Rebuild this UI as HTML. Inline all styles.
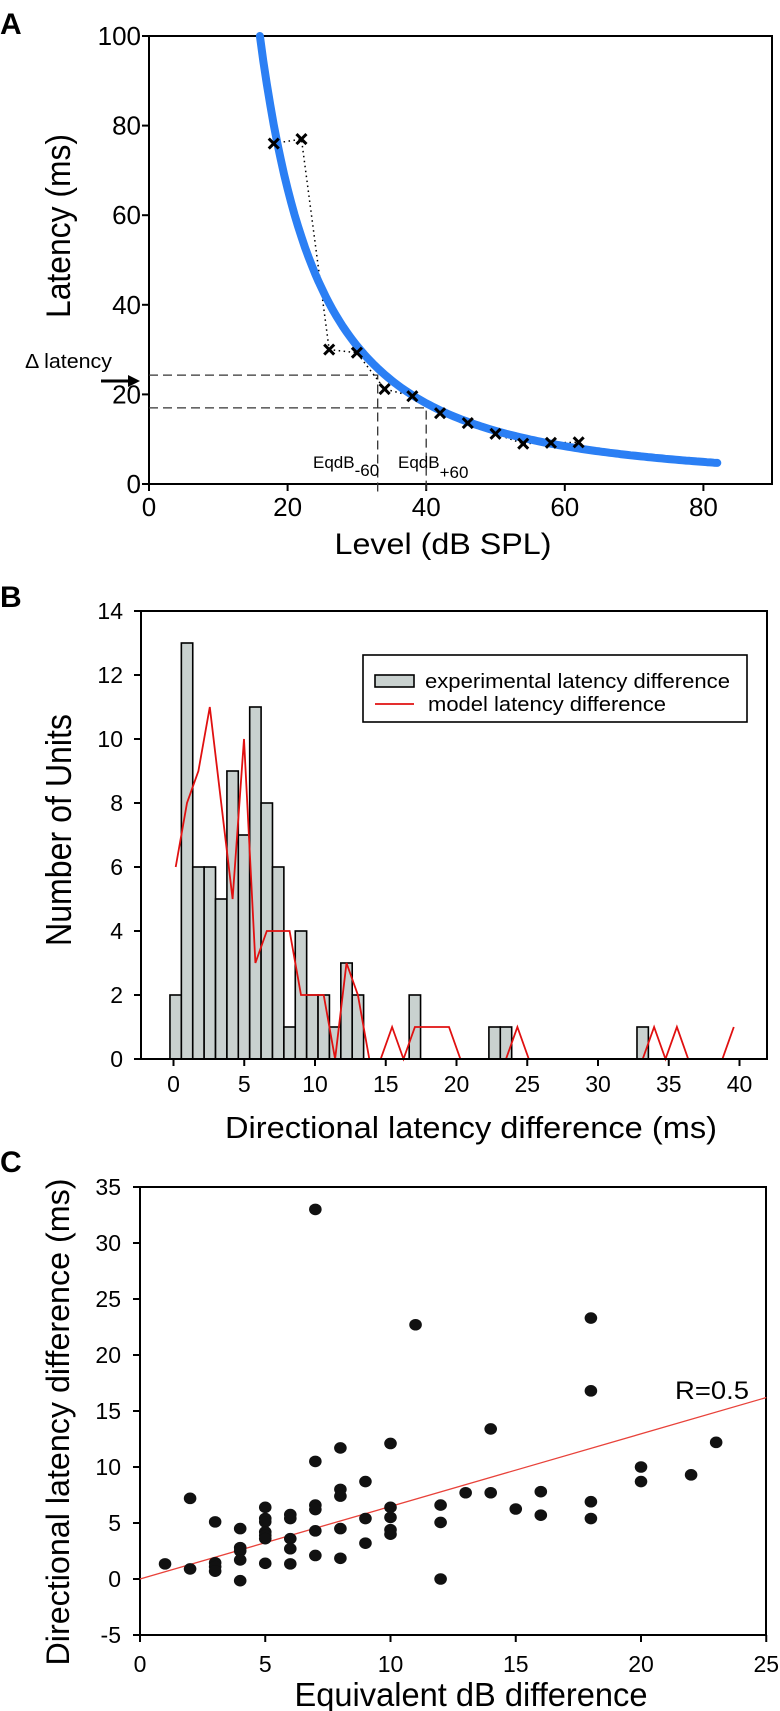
<!DOCTYPE html>
<html><head><meta charset="utf-8"><style>
html,body{margin:0;padding:0;background:#fff;}
svg{display:block;font-family:"Liberation Sans",Arial,sans-serif;}
</style></head><body>
<svg id="fig" width="780" height="1711" viewBox="0 0 780 1711" xmlns="http://www.w3.org/2000/svg"></svg>
<script>
// ---- Panel A data ----
const A_levels = [18, 22, 26, 30, 34, 38, 42, 46, 50, 54, 58, 62];
const A_latency = [76, 77, 30, 29.3, 21.2, 19.6, 15.8, 13.6, 11.2, 9, 9.2, 9.3];
const A_xTicks = [0, 20, 40, 60, 80];
const A_yTicks = [0, 20, 40, 60, 80, 100];
const A_curveRange = [16, 82];
const A_curveExp = 1.87;
const A_eqLevels = [33, 40];
const A_eqLatency = [24.3, 17];
// ---- Panel B data ----
const B_binStart = -0.25;
const B_binWidth = 0.805;
const B_counts = [2,13,6,6,5,9,7,11,8,6,1,4,2,2,1,3,2,0,0,0,0,2,0,0,0,0,0,0,1,1,0,0,0,0,0,0,0,0,0,0,0,1];
const B_model = [6,8,9,11,8,5,10,3,4,4,4,2,2,2,0,3,2,0,0,1,0,1,1,1,1,0,0,0,0,0,1,0,0,0,0,0,0,0,0,0,0,0,1,0,1,0,0,0,0,1];
const B_xTicks = [0,5,10,15,20,25,30,35,40];
const B_yTicks = [0,2,4,6,8,10,12,14];
// ---- Panel C data ----
const C_x = [1,2,2,3,3,3,3,4,4,4,4,4,5,5,5,5,5,5,5,6,6,6,6,6,7,7,7,7,7,7,8,8,8,8,8,9,9,9,10,10,10,10,10,11,12,12,12,13,14,14,15,16,16,18,18,18,18,20,20,22,23];
const C_y = [1.35,7.2,0.9,5.1,1.45,1.1,0.7,4.5,2.8,2.5,1.7,-0.15,6.4,5.4,5.1,4.2,3.9,3.6,1.4,5.75,5.4,3.6,2.7,1.35,33,10.5,6.6,6.2,4.3,2.1,11.7,8.0,7.4,4.5,1.85,8.7,5.4,3.2,12.1,6.4,5.5,4.4,4.0,22.7,6.6,5.05,0,7.7,13.4,7.7,6.25,7.8,5.7,23.3,16.8,6.9,5.4,10.0,8.7,9.3,12.2];
const C_fit = [0, 16.2];
const C_xTicks = [0,5,10,15,20,25];
const C_yTicks = [-5,0,5,10,15,20,25,30,35];

const NS = "http://www.w3.org/2000/svg";
const svg = document.getElementById('fig');
function mk(tag, attrs, parent) {
  const e = document.createElementNS(NS, tag);
  for (const k in attrs) e.setAttribute(k, attrs[k]);
  (parent || svg).appendChild(e);
  return e;
}
function tx(x, y, s, size, anchor, extra) {
  const e = mk('text', Object.assign({x: x, y: y, 'font-size': size, 'text-anchor': anchor || 'start', fill: '#000'}, extra || {}));
  e.textContent = s;
  return e;
}
const xA = v => 149 + v * 6.93, yA = v => 484 - v * 4.48;
const xB = v => 173.5 + v * 14.15, yB = v => 1059 - v * 32;
const xC = v => 140 + v * 25.05, yC = v => 1579 - v * 11.2;

// ================= Panel A =================
let e;
e = tx(0, 34, 'A', 30, 'start', {'font-weight': 'bold'});


e = mk('rect', {x: 149, y: 36, width: 623, height: 448, fill: 'none', stroke: '#000', 'stroke-width': 2});


A_yTicks.forEach(v => {
  mk('line', {x1: 142, x2: 149, y1: yA(v), y2: yA(v), stroke: '#000', 'stroke-width': 2});
  const t = tx(141, yA(v) + 9, String(v), 26, 'end');
  
  
});
A_xTicks.forEach(v => {
  mk('line', {x1: xA(v), x2: xA(v), y1: 484, y2: 491, stroke: '#000', 'stroke-width': 2});
  const t = tx(xA(v), 516, String(v), 26, 'middle');
  
  
});
e = tx(0, 0, 'Latency (ms)', 34, 'middle', {transform: 'translate(70,226) rotate(-90)', textLength: 184, lengthAdjust: 'spacingAndGlyphs'});


e = tx(443, 554, 'Level (dB SPL)', 30, 'middle', {textLength: 217, lengthAdjust: 'spacingAndGlyphs'});


// dashed guides
for (let i = 0; i < 2; i++) {
  e = mk('path', {d: `M149 ${yA(A_eqLatency[i])} H${xA(A_eqLevels[i])} V493`, fill: 'none', stroke: '#333', 'stroke-width': 1.3, 'stroke-dasharray': '9,5'});
  
  
}
e = tx(313, 468, 'EqdB', 17, 'start');


mk('tspan', {dy: 8, 'font-size': 17}, e).textContent = '-60';
e = tx(398, 468, 'EqdB', 17, 'start');


mk('tspan', {dy: 10, 'font-size': 17}, e).textContent = '+60';
e = tx(25, 368, 'Δ latency', 20, 'start', {textLength: 87, lengthAdjust: 'spacingAndGlyphs'});


e = mk('g', {});


mk('line', {x1: 101, x2: 130, y1: 381, y2: 381, stroke: '#000', 'stroke-width': 3}, e);
mk('path', {d: 'M128 375 L140 381 L128 387 Z', fill: '#000'}, e);
// dotted data line
e = mk('polyline', {points: A_levels.map((v, i) => xA(v) + ',' + yA(A_latency[i])).join(' '), fill: 'none', stroke: '#000', 'stroke-width': 1.5, 'stroke-dasharray': '1.5,3.5'});


// fitted curve
let pts = [];
for (let l = A_curveRange[0]; l <= A_curveRange[1] + 0.001; l += 0.5) {
  pts.push(xA(l).toFixed(1) + ',' + yA(100 * Math.pow(A_curveRange[0] / l, A_curveExp)).toFixed(1));
}
e = mk('polyline', {points: pts.join(' '), fill: 'none', stroke: '#2b7ff4', 'stroke-width': 8, 'stroke-linecap': 'round', 'stroke-linejoin': 'round'});


A_levels.forEach((v, i) => {
  const cx = xA(v), cy = yA(A_latency[i]);
  const m = mk('path', {d: `M${cx-5} ${cy-5} L${cx+5} ${cy+5} M${cx+5} ${cy-5} L${cx-5} ${cy+5}`, stroke: '#000', 'stroke-width': 3});
  
  
});

// ================= Panel B =================
e = tx(0, 607, 'B', 30, 'start', {'font-weight': 'bold'});


B_yTicks.forEach(v => {
  mk('line', {x1: 134, x2: 141, y1: yB(v), y2: yB(v), stroke: '#000', 'stroke-width': 2});
  const t = tx(123, yB(v) + 8, String(v), 23, 'end');
  
  
});
B_xTicks.forEach(v => {
  mk('line', {x1: xB(v), x2: xB(v), y1: 1059, y2: 1066, stroke: '#000', 'stroke-width': 2});
  const t = tx(xB(v), 1092, String(v), 23, 'middle');
  
  
});
e = tx(0, 0, 'Number of Units', 36, 'middle', {transform: 'translate(71,830) rotate(-90)', textLength: 232, lengthAdjust: 'spacingAndGlyphs'});


e = tx(471, 1138, 'Directional latency difference (ms)', 31, 'middle', {textLength: 492, lengthAdjust: 'spacingAndGlyphs'});


B_counts.forEach((c, k) => {
  if (c <= 0) return;
  const x0 = xB(B_binStart + k * B_binWidth), x1 = xB(B_binStart + (k + 1) * B_binWidth);
  const r = mk('rect', {x: x0, y: yB(c), width: x1 - x0, height: yB(0) - yB(c), fill: '#c9d1cf', stroke: '#000', 'stroke-width': 1.6});
  
  
});
e = mk('polyline', {points: B_model.map((c, k) => xB(B_binStart + (k + 0.5) * B_binWidth).toFixed(1) + ',' + yB(c)).join(' '), fill: 'none', stroke: '#e01010', 'stroke-width': 1.8});


e = mk('rect', {x: 141, y: 611, width: 626, height: 448, fill: 'none', stroke: '#000', 'stroke-width': 2});


// legend
e = mk('g', {});


mk('rect', {x: 363, y: 655, width: 384, height: 67, fill: '#fff', stroke: '#000', 'stroke-width': 1.6}, e);
let le = mk('rect', {x: 375, y: 675, width: 39, height: 12, fill: '#c9d1cf', stroke: '#000', 'stroke-width': 1.6}, e);


le = tx(425, 688, 'experimental latency difference', 20, 'start', {textLength: 305, lengthAdjust: 'spacingAndGlyphs'});


le = mk('line', {x1: 375, x2: 414, y1: 704, y2: 704, stroke: '#e01010', 'stroke-width': 1.8}, e);


le = tx(428, 711, 'model latency difference', 20, 'start', {textLength: 238, lengthAdjust: 'spacingAndGlyphs'});



// ================= Panel C =================
e = tx(0, 1172, 'C', 30, 'start', {'font-weight': 'bold'});


e = mk('rect', {x: 140, y: 1187, width: 626, height: 448, fill: 'none', stroke: '#000', 'stroke-width': 2});


C_yTicks.forEach(v => {
  mk('line', {x1: 133, x2: 140, y1: yC(v), y2: yC(v), stroke: '#000', 'stroke-width': 2});
  const t = tx(121, yC(v) + 8, String(v), 23, 'end');
  
  
});
C_xTicks.forEach(v => {
  mk('line', {x1: xC(v), x2: xC(v), y1: 1635, y2: 1642, stroke: '#000', 'stroke-width': 2});
  const t = tx(xC(v), 1672, String(v), 23, 'middle');
  
  
});
e = tx(0, 0, 'Directional latency difference (ms)', 32, 'middle', {transform: 'translate(69,1422) rotate(-90)', textLength: 487, lengthAdjust: 'spacingAndGlyphs'});


e = tx(471, 1706, 'Equivalent dB difference', 33, 'middle', {textLength: 353, lengthAdjust: 'spacingAndGlyphs'});


e = mk('line', {x1: xC(0), y1: yC(C_fit[0]), x2: xC(25), y2: yC(C_fit[1]), stroke: '#e8423a', 'stroke-width': 1.3});


e = tx(712, 1399, 'R=0.5', 25, 'middle', {textLength: 74, lengthAdjust: 'spacingAndGlyphs'});


C_x.forEach((v, i) => {
  const d = mk('ellipse', {cx: xC(v), cy: yC(C_y[i]), rx: 6.3, ry: 5.8, fill: '#111'});
  
  
});
</script>
</body></html>
